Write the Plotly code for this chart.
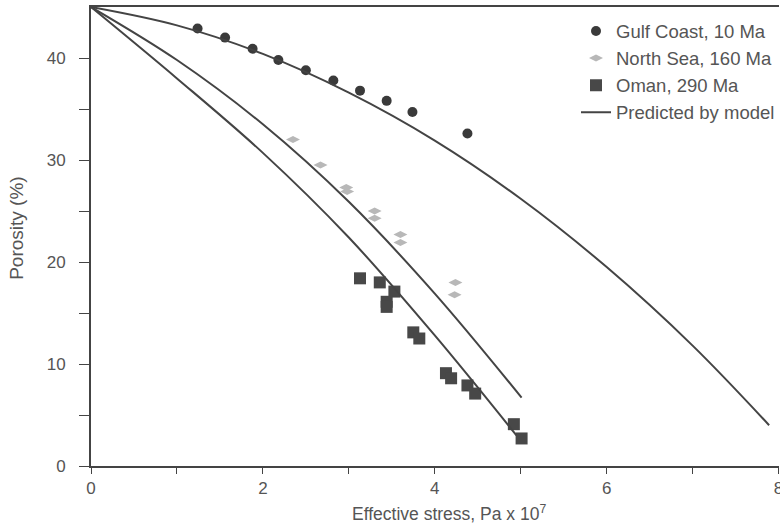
import plotly.graph_objects as go

gulf_x = [1.24, 1.56, 1.88, 2.18, 2.50, 2.82, 3.13, 3.44, 3.74, 4.38]
gulf_y = [42.9, 42.0, 40.9, 39.8, 38.8, 37.8, 36.8, 35.8, 34.7, 32.6]

north_x = [2.35, 2.67, 2.97, 2.98, 3.30, 3.30, 3.60, 3.60, 4.24, 4.23]
north_y = [32.0, 29.5, 27.3, 26.9, 25.0, 24.3, 22.7, 21.9, 18.0, 16.8]

oman_x = [3.13, 3.36, 3.53, 3.44, 3.44, 3.75, 3.82, 4.13, 4.19, 4.38, 4.47, 4.92, 5.01]
oman_y = [18.4, 18.0, 17.1, 16.1, 15.6, 13.1, 12.5, 9.1, 8.6, 7.9, 7.1, 4.1, 2.7]

# Model curves
model_gulf_x = [0, 1, 2, 3, 4, 5, 6, 7, 7.89]
model_gulf_y = [45, 43.2, 40.4, 36.6, 31.9, 26.2, 19.5, 11.8, 4.0]

model_north_x = [0, 1, 2, 3, 4, 5.01]
model_north_y = [45, 39.8, 33.5, 25.9, 16.9, 6.7]

model_oman_x = [0, 1, 2, 3, 4, 4.95]
model_oman_y = [45, 38.0, 30.7, 22.4, 12.8, 3.0]

x_ticks = [0, 2, 4, 6, 8]
y_ticks = [0, 10, 20, 30, 40]

LINE = "#444444"
TXT = "#555555"
FONT = "Liberation Sans, Arial, sans-serif"

fig = go.Figure()

fig.add_trace(go.Scatter(
    x=gulf_x, y=gulf_y, mode="markers", name="Gulf Coast, 10 Ma",
    legendgroup="g1",
    marker=dict(symbol="circle", size=10, color="#3a3a3a"),
))
fig.add_trace(go.Scatter(
    x=north_x, y=north_y, mode="markers", name="North Sea, 160 Ma",
    legendgroup="g2",
    marker=dict(symbol="diamond-wide", size=10, color="#b8b8b8"),
))
fig.add_trace(go.Scatter(
    x=oman_x, y=oman_y, mode="markers", name="Oman, 290 Ma",
    legendgroup="g3",
    marker=dict(symbol="square", size=12, color="#484848"),
))
fig.add_trace(go.Scatter(
    x=model_gulf_x, y=model_gulf_y, mode="lines", name="Predicted by model",
    legendgroup="g4", line=dict(color=LINE, width=2, shape="spline"),
))
fig.add_trace(go.Scatter(
    x=model_north_x, y=model_north_y, mode="lines", showlegend=False,
    legendgroup="g4", line=dict(color=LINE, width=2, shape="spline"),
))
fig.add_trace(go.Scatter(
    x=model_oman_x, y=model_oman_y, mode="lines", showlegend=False,
    legendgroup="g4", line=dict(color=LINE, width=2, shape="spline"),
))

fig.update_layout(
    width=780, height=525,
    margin=dict(l=91, r=0, t=7, b=59),
    paper_bgcolor="white", plot_bgcolor="white",
    font=dict(family=FONT, size=16, color=TXT),
    legend=dict(
        x=0.705, xanchor="left", y=0.988, yanchor="top",
        font=dict(size=18.5, color=TXT),
        bgcolor="rgba(0,0,0,0)", tracegroupgap=0,
    ),
    xaxis=dict(
        range=[0, 8.005], tickvals=x_ticks, ticktext=[str(v) for v in x_ticks],
        minor=dict(tickvals=[1, 3, 5, 7], ticks="outside", ticklen=6, tickcolor=LINE, tickwidth=1),
        ticks="outside", ticklen=6, tickcolor=LINE, tickwidth=1,
        showline=True, linecolor=LINE, linewidth=2, mirror=True,
        showgrid=False, zeroline=False,
        tickfont=dict(size=17, color=TXT),
        ticklabeloverflow="allow",
        automargin=False,
    ),
    yaxis=dict(
        range=[0, 45], tickvals=y_ticks, ticktext=[str(v) for v in y_ticks],
        minor=dict(tickvals=[5, 15, 25, 35], ticks="outside", ticklen=10, tickcolor=LINE, tickwidth=1),
        ticks="outside", ticklen=10, tickcolor=LINE, tickwidth=1,
        showline=True, linecolor=LINE, linewidth=2,
        showgrid=False, zeroline=False,
        tickfont=dict(size=17, color=TXT),
        ticklabelstandoff=10,
        automargin=False,
    ),
    annotations=[
        dict(text="Effective stress, Pa x 10<sup>7</sup>", xref="paper", yref="paper",
             x=0.521, y=-0.102, xanchor="center", yanchor="middle", showarrow=False,
             font=dict(size=17.5, color=TXT)),
        dict(text="Porosity (%)", xref="paper", yref="paper",
             x=-0.1074, y=0.517, xanchor="center", yanchor="middle", showarrow=False,
             textangle=-90, font=dict(size=19, color=TXT)),
    ],
)

fig.write_html("out.html")
